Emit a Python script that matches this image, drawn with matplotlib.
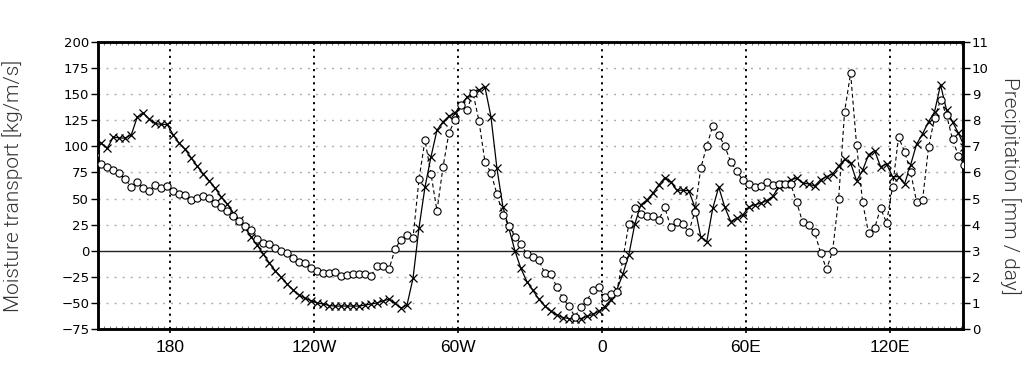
import numpy as np
import matplotlib.pyplot as plt

# longitude grid, 2.5 deg, 150E -> 150E (continuous, west negative)
lon = np.arange(-211.25, 155.0, 2.5)

# moisture transport [kg/m/s]
transport = [
    107, 103, 98, 109, 108, 108, 111, 128, 132, 126,
    122, 121, 121, 111, 103, 97, 89, 81, 73.5, 67,
    60, 51.5, 45, 36.5, 29.5, 21.5, 13.5, 5.5, -3, -11.5,
    -19, -25.5, -32, -37.5, -42.5, -45.5, -48, -50, -51, -52.5,
    -53, -53, -53, -53, -53, -52, -51, -50, -48, -46.5,
    -50.5, -55, -52, -26.5, 22, 61, 90, 115.5, 123.5, 129,
    132, 139.5, 147, 151, 154, 157, 128.5, 79, 42, 21.5,
    0, -17, -29.5, -38, -46.5, -53, -58, -61.5, -64, -65,
    -65.5, -65, -63, -61, -58, -53.5, -47, -37.5, -22.5, -4,
    25.5, 44, 48.5, 55, 63, 70, 66, 58, 58, 57.5,
    42, 13.5, 8.5, 40.5, 61, 42, 28, 31, 34, 42,
    44, 45.5, 48, 52, 61, 64, 68, 69.5, 65, 64,
    62, 68, 71, 73.5, 81, 87.5, 84, 67, 77, 92,
    96, 80.5, 83, 71, 71, 64, 82, 102, 112, 123.5,
    133, 159, 135, 123.5, 112.5, 99.5, 92,
]

# precipitation [mm/day]
precip = [
    6.67, 6.31, 6.20, 6.08, 5.99, 5.73, 5.45, 5.65, 5.39, 5.30,
    5.52, 5.39, 5.47, 5.28, 5.19, 5.15, 4.96, 5.04, 5.09, 5.03,
    4.84, 4.69, 4.52, 4.32, 4.13, 3.95, 3.81, 3.46, 3.30, 3.27,
    3.12, 3.00, 2.92, 2.73, 2.58, 2.53, 2.33, 2.23, 2.16, 2.16,
    2.20, 2.04, 2.07, 2.11, 2.10, 2.10, 2.04, 2.41, 2.41, 2.29,
    3.06, 3.43, 3.62, 3.48, 5.74, 7.24, 5.94, 4.53, 6.20, 7.52,
    8.01, 8.59, 8.39, 9.06, 7.98, 6.41, 5.99, 5.17, 4.37, 3.95,
    3.54, 3.26, 2.87, 2.77, 2.63, 2.13, 2.11, 1.60, 1.18, 0.88,
    0.47, 0.83, 1.08, 1.49, 1.62, 1.23, 1.35, 1.43, 2.66, 4.02,
    4.63, 4.41, 4.34, 4.33, 4.18, 4.66, 3.90, 4.09, 4.02, 3.73,
    4.47, 6.16, 7.01, 7.78, 7.44, 7.01, 6.41, 6.06, 5.71, 5.56,
    5.43, 5.48, 5.65, 5.52, 5.56, 5.56, 5.56, 4.86, 4.09, 3.97,
    3.71, 2.92, 2.29, 3.00, 4.98, 8.33, 9.80, 7.05, 4.86, 3.67,
    3.86, 4.63, 4.07, 5.45, 7.35, 6.80, 6.03, 4.88, 4.94, 6.96,
    8.08, 8.78, 8.20, 7.27, 6.63, 6.29, 6.10,
]

xticks = [-180, -120, -60, 0, 60, 120]
xlabels = ['180', '120W', '60W', '0', '60E', '120E']
yticks_left = np.arange(-75, 201, 25)
yticks_right = np.arange(0, 12, 1)

fig = plt.figure(figsize=(10.26, 3.67), dpi=100)
ax = fig.add_axes([0.0958, 0.1035, 0.8425, 0.7821])
ax2 = ax.twinx()

# grid
for y in yticks_left[1:-1]:
    if y == 0:
        ax.axhline(0, color='#222222', lw=1.0, zorder=1)
    else:
        ax.axhline(y, color='#aaaaaa', lw=1.0, ls=(0, (1.4, 4.4)), zorder=1)
for x in xticks:
    ax.axvline(x, color='black', lw=1.4, ls=(0, (1.1, 2.3)), zorder=1)

ax.plot(lon, transport, color='black', lw=0.9, marker='x', ms=5.5, mew=0.9, zorder=3)
ax2.plot(lon, precip, color='black', lw=0.8, ls=(0, (3.6, 2.6)), marker='o', ms=5.2,
         mfc='white', mec='black', mew=0.8, zorder=4)

ax.set_xlim(-210, 150.5)
ax.set_ylim(-75, 200)
ax2.set_ylim(0, 11)

ax.set_xticks(xticks)
ax.set_xticklabels(xlabels, fontfamily=['Liberation Sans', 'DejaVu Sans'])
ax.set_xticks(np.arange(-210, 151, 2.5), minor=True)
ax.set_yticks(yticks_left)
ax2.set_yticks(yticks_right)

for a in (ax, ax2):
    for s in a.spines.values():
        s.set_linewidth(1.8)

ax.tick_params(axis='x', which='major', direction='out', length=3, width=1.2,
               labelsize=12.5, pad=5)
ax.tick_params(axis='x', which='minor', direction='in', length=2, width=0.8,
               top=True, color='#777777')
ax.tick_params(axis='y', direction='out', length=5, width=1.0, labelsize=9.5, pad=1.5)
ax2.tick_params(axis='y', direction='out', length=5, width=1.0, labelsize=9.5, pad=1.5)

lab_font = dict(fontsize=15, color='#333333', fontfamily=['Roboto', 'DejaVu Sans'],
                fontweight=300, va='center', ha='center')
ax.set_ylabel('Moisture transport [kg/m/s]', rotation=90, **lab_font)
ax2.set_ylabel('Precipitation [mm / day]', rotation=-90, **lab_font)
ax.yaxis.set_label_coords(-0.099, 0.5)
ax2.yaxis.set_label_coords(1.0547, 0.5)

fig.savefig('out.png', dpi=100)
